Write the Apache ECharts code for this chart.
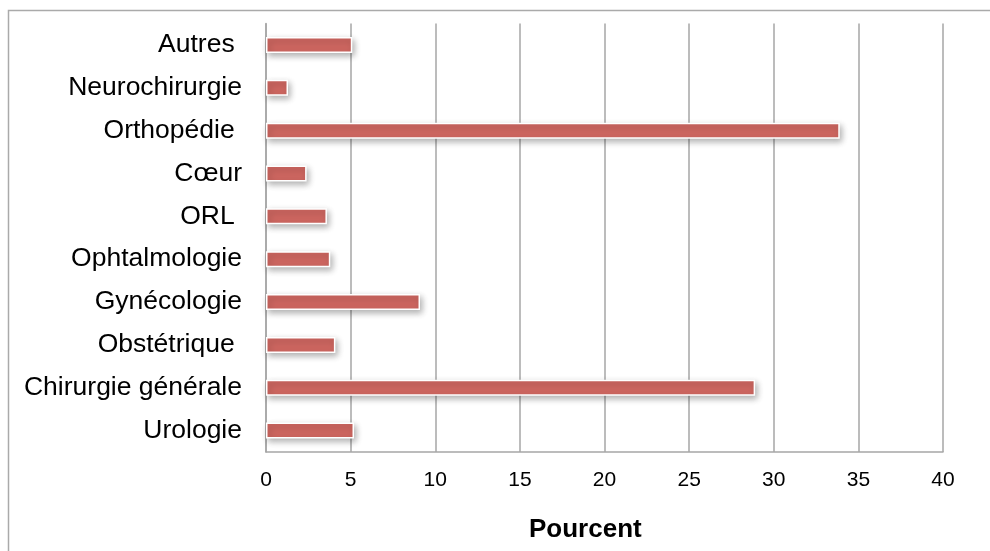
<!DOCTYPE html>
<html>
<head>
<meta charset="utf-8">
<script src="https://cdn.jsdelivr.net/npm/echarts@6/dist/echarts.min.js"></script>
<style>
  html, body { margin: 0; padding: 0; background: #fff; }
  #chart { width: 990px; height: 551px; }
</style>
</head>
<body>
<div id="chart"></div>
<script>
// Surgical specialties, listed bottom to top
const specialties = [
  'Urologie', 'Chirurgie générale', 'Obstétrique ', 'Gynécologie', 'Ophtalmologie',
  'ORL ', 'Cœur', 'Orthopédie ', 'Neurochirurgie', 'Autres '
];
// Share of interventions (%)
const percentages = [5.2, 28.9, 4.1, 9.1, 3.8, 3.6, 2.4, 33.9, 1.3, 5.1];
const xTicks = { min: 0, max: 40, step: 5 };
const axisTitle = 'Pourcent';

const chart = echarts.init(document.getElementById('chart'), null, { renderer: 'canvas' });

const gridColor = '#a6a6a6';
const font = 'Liberation Sans, Arial, Helvetica, sans-serif';

chart.setOption({
  animation: false,
  backgroundColor: '#ffffff',
  grid: { left: 266, right: 47, top: 23.5, bottom: 99, containLabel: false },
  title: {
    text: axisTitle,
    left: 529,
    top: 517,
    padding: 0,
    textStyle: { fontFamily: font, fontSize: 26, fontWeight: 'bold', color: '#000' }
  },
  xAxis: {
    type: 'value',
    min: xTicks.min,
    max: xTicks.max,
    interval: xTicks.step,
    axisLine: { show: true, lineStyle: { color: gridColor, width: 1.5 } },
    axisTick: { show: false },
    axisLabel: { fontFamily: font, fontSize: 21, color: '#000', margin: 18 },
    splitLine: { show: true, lineStyle: { color: gridColor, width: 1.5 } }
  },
  yAxis: {
    type: 'category',
    data: specialties,
    axisLine: { show: true, lineStyle: { color: gridColor, width: 1.5 } },
    axisTick: { show: false },
    axisLabel: { fontFamily: font, fontSize: 26.5, color: '#000', margin: 24, padding: [6, 0, 0, 0] }
  },
  series: [{
    type: 'bar',
    data: percentages,
    barWidth: 16,
    itemStyle: {
      color: '#cd6660',
      borderColor: '#ffffff',
      borderWidth: 1.5,
      shadowColor: 'rgba(0,0,0,0.3)',
      shadowBlur: 6,
      shadowOffsetX: 2,
      shadowOffsetY: 3
    }
  }],
  graphic: [{
    type: 'polyline',
    silent: true,
    shape: { points: [[8.5, 551], [8.5, 10.5], [990, 10.5]] },
    style: { stroke: '#aaaaaa', lineWidth: 1.5, fill: null }
  }]
});
</script>
</body>
</html>
